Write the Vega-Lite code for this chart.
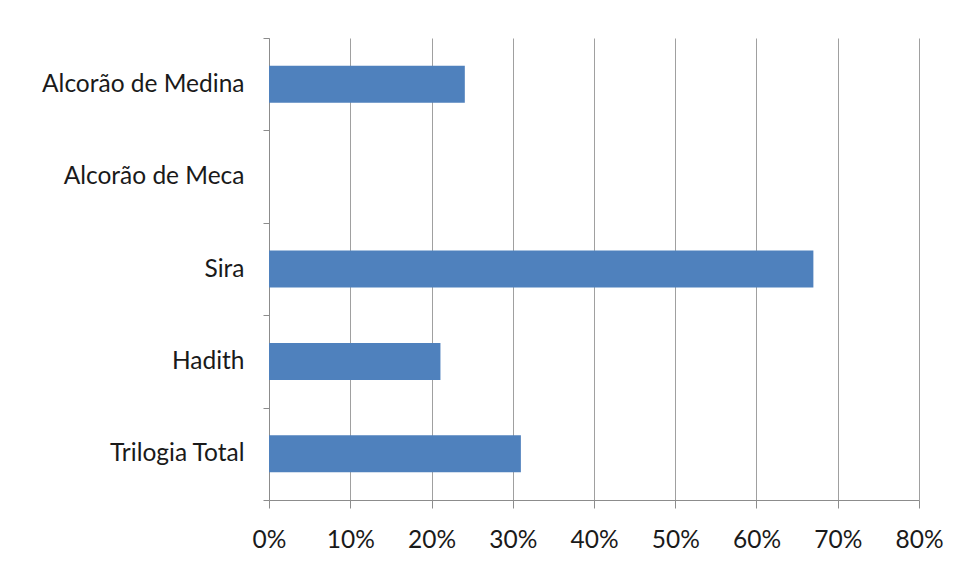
{
  "$schema": "https://vega.github.io/schema/vega-lite/v6.json",
  "autosize": "none",
  "width": 650,
  "height": 462,
  "padding": {"left": 269, "top": 38, "right": 37, "bottom": 80},
  "background": "white",
  "data": {"values": [
    {"fonte": "Alcorão de Medina", "pct": 0.241},
    {"fonte": "Alcorão de Meca", "pct": 0},
    {"fonte": "Sira", "pct": 0.670},
    {"fonte": "Hadith", "pct": 0.211},
    {"fonte": "Trilogia Total", "pct": 0.310}
  ]},
  "mark": {"type": "bar", "color": "#4f81bd", "height": {"band": 0.4}},
  "encoding": {
    "y": {
      "field": "fonte", "type": "nominal", "sort": null,
      "scale": {"paddingInner": 0, "paddingOuter": 0},
      "axis": {
        "title": null, "tickBand": "extent", "tickSize": 6, "tickColor": "#8c8c8c",
        "domainColor": "#8c8c8c", "labelPadding": 19, "labelFont": "Lato", "labelLimit": 400,
        "labelFontSize": 24.5, "labelColor": "#1a1a1a", "grid": false
      }
    },
    "x": {
      "field": "pct", "type": "quantitative",
      "scale": {"domain": [0, 0.8], "nice": false},
      "axis": {
        "title": null, "format": ".0%", "values": [0, 0.1, 0.2, 0.3, 0.4, 0.5, 0.6, 0.7, 0.8],
        "tickSize": 8, "tickColor": "#8c8c8c", "domainColor": "#8c8c8c",
        "grid": true, "gridColor": "#a0a0a0", "labelPadding": 20, "labelFlush": false,
        "labelFont": "Lato", "labelFontSize": 24.5, "labelColor": "#1a1a1a"
      }
    }
  },
  "config": {"view": {"stroke": null}}
}
